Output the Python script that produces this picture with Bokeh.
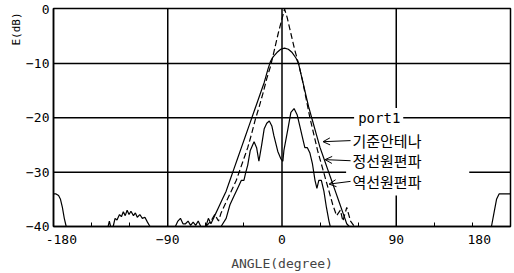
from bokeh.plotting import figure
from bokeh.models import FixedTicker, Label, Arrow, OpenHead, Range1d, Title
from bokeh.embed import file_html
from bokeh.resources import INLINE

# ---------------- data ----------------
# dashed curve (peak 0 dB)
ref_deg = [-60, -56, -53, -50, -48, -45, -42, -39, -36, -33, -30, -27, -24, -21, -18,
           -15, -12, -9, -6, -3, 0, 2, 4, 7, 10, 13, 16, 19, 22, 25, 28, 31, 34, 37,
           40, 43, 46, 48, 51, 54, 57]
ref_db = [-40, -39, -37.8, -39, -37.5, -36, -34.5, -33, -31.5, -29.5, -27.5, -25.5, -23,
          -20.3, -18, -15.5, -12.8, -10.5, -7.5, -4.5, -1.8, 0, -1.5, -4.5, -7.5, -10,
          -13, -16.5, -20, -23, -26, -28.5, -31, -33.5, -36, -38, -37, -39, -36.5, -39, -40]

# smooth solid curve (peak about -7 dB), incl. edge lobes and floor ripples
co_deg = [-180, -178, -176, -174.5, -173, -171.5, -170, -137, -136, -135, -133, -131.5,
          -130, -128, -126.5, -125, -123.5, -122, -120.5, -119, -117, -115.5, -114, -112,
          -110, -108, -106, -104, -84, -82, -80, -78, -76, -74, -72, -70, -68, -66, -64,
          -60, -58, -56, -53, -50, -47, -44, -41, -38, -35, -32, -29, -26, -23, -20, -17,
          -14, -11, -9, -7, -4, -1, 2, 5, 8, 11, 13, 15, 17, 19, 21, 24, 27, 30, 33, 36,
          39, 42, 45, 48, 51, 53, 165, 167, 169, 171, 180]
co_db = [-34, -34, -34.3, -35, -36.5, -38.5, -40, -40, -39, -40, -40, -38.5,
         -38.8, -37.8, -38.2, -37.3, -38, -37, -37.8, -37.2, -38, -37.5, -38.3, -37.8,
         -38.5, -38.3, -39.2, -40, -40, -39, -38.5, -39.5, -39.5, -39, -39.8, -39.2, -39.8, -39, -40,
         -40, -38.5, -39.5, -38, -36.5, -35, -33.5, -31.5, -29.5, -27.5, -25.5, -23.5, -21.5, -19.5, -17.5, -15.5,
         -13.5, -11, -9.6, -8.8, -8.0, -7.4, -7.2, -7.4, -8.0, -9.0, -10, -12, -14, -16, -18,
         -20.5, -23, -25.5, -27.5, -29.5, -31.5, -33.5, -35.5, -37.5, -39.5, -40, -40, -37.5, -35, -34, -34]

# oscillating solid curve (peaks about -18 dB, dip at 0 deg)
cx_deg = [-48, -44, -41, -38, -35, -32, -30, -28.5, -27, -25, -22, -20, -18.2, -16, -14,
          -12, -10, -8, -6.4, -3.3, -1, 0.7, 1.5, 4.7, 7, 9.5, 12, 14, 16, 18, 20, 22, 24,
          26, 27.5, 29, 31, 33, 35, 37, 38]
cx_db = [-40, -38.5, -36, -34.5, -33, -31.5, -31.5, -30, -28.7, -26, -24.4, -25.5, -28, -25, -22,
         -21, -20.6, -21.5, -23.3, -26.2, -27.5, -28, -26, -22, -19, -18.3, -19.5, -21.5, -23.5, -25.5,
         -25.5, -26.5, -28.5, -31.5, -33, -31.5, -31.5, -33.5, -36.5, -39, -40]

x_ticks = [-180, -90, 0, 90, 180]
x_minor = [-150, -120, -60, -30, 30, 60, 120, 150]
y_ticks = [-40, -30, -20, -10, 0]
legend_title = "port1"
legend_names = ["기준안테나", "정선원편파", "역선원편파"]

# ---------------- figure ----------------
MONO = "DejaVu Sans Mono"
p = figure(width=514, height=273, output_backend="svg", toolbar_location=None,
           x_range=Range1d(-180, 180), y_range=Range1d(-40, 0.1),
           min_border_left=53, min_border_right=4, min_border_top=8, min_border_bottom=43)
p.xgrid.visible = False
p.ygrid.visible = False
p.outline_line_color = "black"
p.outline_line_width = 1.5
p.background_fill_color = "white"
p.border_fill_color = "white"

nb = "\u00a0"
p.xaxis.ticker = FixedTicker(ticks=x_ticks, minor_ticks=x_minor)
p.xaxis.major_label_overrides = {x_ticks[0]: nb * 2 + str(x_ticks[0]),
                                 x_ticks[-1]: str(x_ticks[-1]) + nb * 3}
p.xaxis.major_tick_in = 0
p.xaxis.major_tick_out = 0
p.xaxis.minor_tick_in = 4
p.xaxis.minor_tick_out = 0
p.xaxis.minor_tick_line_color = "black"
p.xaxis.axis_label = "ANGLE(degree)"
p.xaxis.axis_label_text_font = MONO
p.xaxis.axis_label_text_font_style = "normal"
p.xaxis.axis_label_text_font_size = "13px"
p.xaxis.axis_label_standoff = 6
p.xaxis.major_label_standoff = 5

p.yaxis.ticker = FixedTicker(ticks=y_ticks, minor_ticks=[])
p.yaxis.major_tick_in = 0
p.yaxis.major_tick_out = 0
p.yaxis.major_label_standoff = 4

for ax in (p.xaxis, p.yaxis):
    ax.axis_line_color = "black"
    ax.axis_line_width = 1.5
    ax.major_label_text_font = MONO
    ax.major_label_text_font_size = "13px"
    ax.major_label_text_color = "black"

# y axis title at the top of the axis
p.add_layout(Title(text="E(dB)", align="right", text_font=MONO, text_font_size="11px",
                   text_font_style="normal", text_color="black", standoff=2, offset=4),
             "left")

# ---------------- grid lines with gaps around the legend ----------------
gap_x20 = (56.8, 95.5)     # -20 dB line interrupted by "port1"
gap_x30 = (50.5, 147.5)    # -30 dB line interrupted by legend texts
gap_y90 = (-18.2, -34.3)   # 90 deg line interrupted by legend texts
xmin, xmax = x_ticks[0], x_ticks[-1]
ymin, ymax = y_ticks[0], y_ticks[-1]
hx0 = [xmin, xmin, gap_x20[1], xmin, gap_x30[1]]
hx1 = [xmax, gap_x20[0], xmax, gap_x30[0], xmax]
hy = [y_ticks[3], y_ticks[2], y_ticks[2], y_ticks[1], y_ticks[1]]
p.segment(x0=hx0, x1=hx1, y0=hy, y1=hy, line_color="black", line_width=1.5)
vx = [x_ticks[1], x_ticks[2], x_ticks[3], x_ticks[3]]
vy0 = [ymin, ymin, ymax, gap_y90[1]]
vy1 = [ymax, ymax, gap_y90[0], ymin]
p.segment(x0=vx, x1=vx, y0=vy0, y1=vy1, line_color="black", line_width=1.5)

# ---------------- curves ----------------
p.line(co_deg, co_db, line_color="black", line_width=1.2)
p.line(cx_deg, cx_db, line_color="black", line_width=1.2)
p.line(ref_deg, ref_db, line_color="black", line_width=1.2, line_dash="6 3")

# ---------------- legend texts and arrows ----------------
p.add_layout(Label(x=60, y=y_ticks[2], text=legend_title, text_font=MONO,
                   text_font_size="14px", text_baseline="middle", text_color="black"))
leg_y = [-24.2, -27.9, -31.7]
tips = [(32.3, -24.4), (33.9, -27.7), (37.1, -32.2)]
for name, ly, (tx, ty) in zip(legend_names, leg_y, tips):
    p.add_layout(Label(x=55.5, y=ly, text=name, text_font="Noto Sans CJK KR",
                       text_font_size="15px", text_baseline="middle", text_color="black"))
    p.add_layout(Arrow(end=OpenHead(size=7, line_width=1, line_color="black"),
                       x_start=54, y_start=ly, x_end=tx, y_end=ty,
                       line_color="black", line_width=1))

open("out.html", "w").write(file_html(p, INLINE))
